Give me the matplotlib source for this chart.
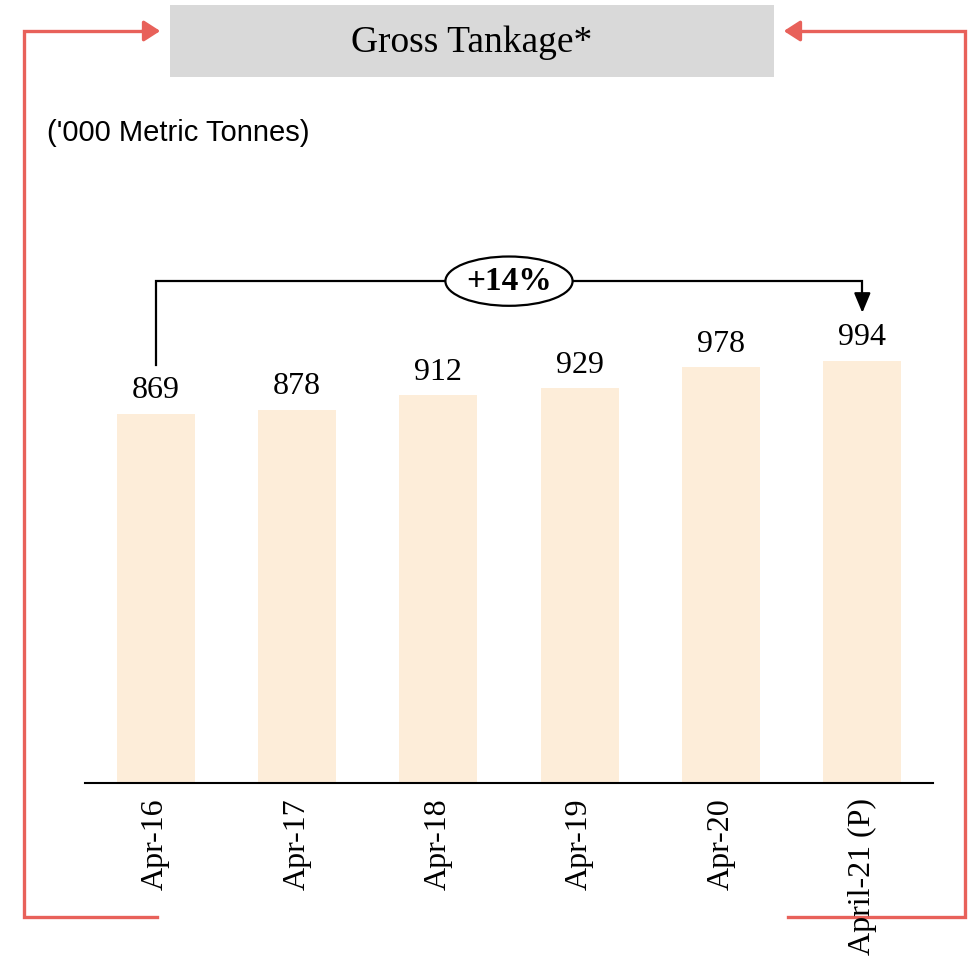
import matplotlib.pyplot as plt
from matplotlib.patches import Ellipse, Rectangle, FancyArrowPatch

# data
categories = ['Apr-16', 'Apr-17', 'Apr-18', 'Apr-19', 'Apr-20', 'April-21 (P)']
tankage = [869, 878, 912, 929, 978, 994]
growth_label = '+14%'

W, H = 970, 959
red = '#E8615A'
bar_color = '#FDEDD9'

fig = plt.figure(figsize=(W / 100, H / 100), dpi=100)

# main bar axes, positioned in pixel terms
ax = fig.add_axes([85 / W, (H - 783) / H, 848 / W, (783 - 200) / H])
x = list(range(len(categories)))
ax.bar(x, tankage, width=0.55, color=bar_color)
ax.set_xlim(-0.5, 5.5)
ax.set_ylim(0, 1372)
for xi, v in zip(x, tankage):
    ax.text(xi, v + 20, str(v), ha='center', va='bottom', fontsize=23,
            family='Liberation Serif')
ax.set_xticks(x)
ax.set_xticklabels(categories, rotation=90, fontsize=23, family='Liberation Serif')
ax.tick_params(axis='x', length=0, pad=11)
ax.set_yticks([])
for s in ['left', 'right', 'top']:
    ax.spines[s].set_visible(False)
ax.spines['bottom'].set_linewidth(1.5)
ax.patch.set_alpha(0)

# growth bracket from first to last bar
y_top = 1181
ax.plot([x[0], x[0], x[-1], x[-1]], [983, y_top, y_top, 1120], color='black', lw=1.6,
        solid_joinstyle='miter')
ax.annotate('', xy=(x[-1], 1100), xytext=(x[-1], 1140),
            arrowprops=dict(arrowstyle='-|>,head_width=0.5,head_length=1.2',
                            color='black', lw=1.6))
ax.add_patch(Ellipse(((x[0] + x[-1]) / 2, y_top), 0.9, 116, facecolor='white',
                     edgecolor='black', lw=1.6, zorder=3))
ax.text((x[0] + x[-1]) / 2, y_top, growth_label, ha='center', va='center',
        fontsize=24, fontweight='bold', family='Liberation Serif', zorder=4)

# overlay for title box and red frame (pixel coordinates)
ov = fig.add_axes([0, 0, 1, 1], zorder=-1)
ov.set_xlim(0, W)
ov.set_ylim(H, 0)
ov.axis('off')
ov.add_patch(Rectangle((170, 5), 604, 72, facecolor='#D9D9D9', edgecolor='none'))
ov.text(472, 43, 'Gross Tankage*', ha='center', va='center', fontsize=27,
        family='Liberation Serif')
ov.text(47, 133, "('000 Metric Tonnes)", ha='left', va='center', fontsize=21,
        family='Liberation Sans')

lw = 2.4
ov.plot([157, 24, 24, 150], [917, 917, 31, 31], color=red, lw=lw, solid_joinstyle='miter')
ov.plot([788, 965, 965, 792], [917, 917, 31, 31], color=red, lw=lw, solid_joinstyle='miter')
ov.add_patch(FancyArrowPatch((140, 31), (163, 31), arrowstyle='-|>,head_width=4.5,head_length=7',
                             color=red, lw=lw, mutation_scale=1.4))
ov.add_patch(FancyArrowPatch((800, 31), (781, 31), arrowstyle='-|>,head_width=4.5,head_length=7',
                             color=red, lw=lw, mutation_scale=1.4))

fig.savefig('out.png', dpi=100)
